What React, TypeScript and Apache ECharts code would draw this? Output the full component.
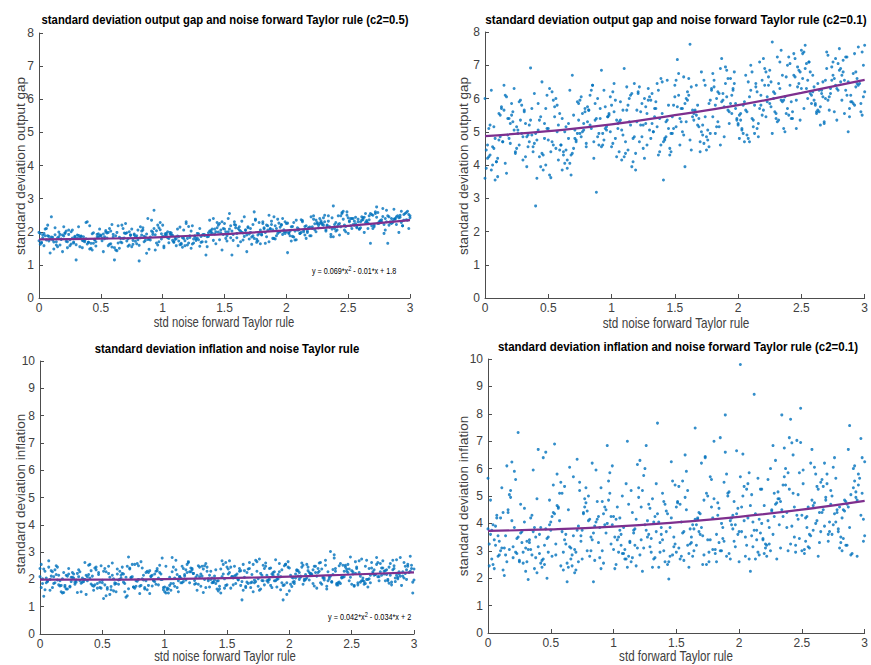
import React, { useEffect, useRef } from "react";
import * as echarts from "echarts";

// ---- data ----
const X_MIN = 0;
const X_MAX = 3;
const X_TICKS_STEP = 0.5;

// noise levels (x) of the two batches of simulations
const X_A = [
  0.13,0.02,0.21,0.08,0.27,0.16,0.04,0.24,0.11,0.19,0.00,0.28,0.07,0.15,0.23,0.03,0.18,0.10,0.26,0.05,0.14,0.22,0.09,0.29,0.01,0.17,0.25,0.06,0.12,0.20,
  0.47,0.33,0.55,0.38,0.51,0.30,0.44,0.58,0.36,0.49,0.41,0.53,0.31,0.46,0.39,0.57,0.34,0.52,0.43,0.37,0.56,0.32,0.48,0.40,0.54,0.35,0.45,0.59,0.42,0.50,
  0.71,0.84,0.62,0.77,0.66,0.88,0.73,0.60,0.81,0.69,0.86,0.64,0.75,0.79,0.67,0.83,0.61,0.72,0.87,0.65,0.78,0.70,0.85,0.63,0.76,0.82,0.68,0.89,0.74,0.80,
  0.98,1.11,0.92,1.05,1.17,0.95,1.08,1.01,1.14,0.90,1.03,1.19,0.97,1.10,0.93,1.15,1.06,0.99,1.12,0.94,1.07,1.18,1.00,1.13,0.96,1.04,1.16,0.91,1.09,1.02,
  1.35,1.22,1.44,1.29,1.47,1.20,1.38,1.26,1.41,1.32,1.49,1.24,1.36,1.45,1.28,1.40,1.21,1.33,1.46,1.27,1.39,1.23,1.42,1.31,1.48,1.25,1.37,1.43,1.30,1.34,
  1.62,1.51,1.74,1.57,1.68,1.79,1.54,1.65,1.71,1.59,1.76,1.50,1.66,1.73,1.56,1.63,1.78,1.52,1.69,1.60,1.75,1.55,1.67,1.72,1.58,1.77,1.53,1.64,1.70,1.61,
  1.93,1.81,2.04,1.87,1.98,2.08,1.84,1.95,2.01,1.89,2.06,1.80,1.96,2.03,1.86,1.92,2.09,1.83,1.99,1.90,2.05,1.85,1.97,2.02,1.88,2.07,1.82,1.94,2.00,1.91,
  2.24,2.12,2.33,2.18,2.38,2.15,2.27,2.10,2.30,2.21,2.36,2.13,2.26,2.34,2.17,2.29,2.11,2.22,2.37,2.16,2.31,2.14,2.25,2.35,2.19,2.28,2.39,2.20,2.32,2.23,
  2.53,2.41,2.64,2.47,2.58,2.68,2.44,2.55,2.61,2.49,2.66,2.40,2.56,2.63,2.46,2.52,2.69,2.43,2.59,2.50,2.65,2.45,2.57,2.62,2.48,2.67,2.42,2.54,2.60,2.51,
  2.83,2.71,2.95,2.77,2.88,2.99,2.74,2.86,2.92,2.79,2.97,2.70,2.85,2.93,2.76,2.82,3.00,2.73,2.89,2.80,2.96,2.75,2.87,2.94,2.78,2.98,2.72,2.84,2.91,2.81,
];
const X_B = [
  0.06,0.19,0.01,0.26,0.11,0.23,0.04,0.15,0.29,0.09,0.20,0.02,0.17,0.27,0.12,0.07,0.24,0.00,0.14,0.21,0.10,0.28,0.05,0.18,0.13,0.25,0.03,0.16,0.22,0.08,
  0.40,0.52,0.31,0.46,0.58,0.35,0.49,0.43,0.55,0.33,0.44,0.57,0.38,0.50,0.30,0.53,0.41,0.36,0.48,0.59,0.34,0.45,0.54,0.39,0.32,0.51,0.42,0.56,0.37,0.47,
  0.83,0.64,0.75,0.89,0.61,0.70,0.86,0.67,0.78,0.62,0.81,0.73,0.68,0.87,0.60,0.76,0.84,0.65,0.79,0.71,0.88,0.63,0.74,0.80,0.66,0.85,0.72,0.77,0.69,0.82,
  1.04,0.93,1.15,0.99,1.10,0.91,1.18,1.02,0.96,1.13,1.07,0.90,1.16,0.98,1.11,0.94,1.05,1.19,1.00,1.08,0.92,1.14,1.03,0.97,1.17,1.09,0.95,1.12,1.01,1.06,
  1.28,1.41,1.21,1.36,1.47,1.24,1.33,1.44,1.20,1.39,1.30,1.49,1.26,1.35,1.43,1.22,1.38,1.46,1.29,1.25,1.42,1.32,1.48,1.23,1.37,1.45,1.27,1.40,1.31,1.34,
  1.56,1.72,1.50,1.65,1.77,1.59,1.68,1.53,1.74,1.62,1.79,1.55,1.70,1.58,1.76,1.51,1.66,1.73,1.61,1.54,1.78,1.63,1.69,1.52,1.75,1.60,1.67,1.57,1.71,1.64,
  1.87,2.03,1.81,1.95,2.08,1.84,1.99,1.90,2.06,1.82,1.97,2.01,1.86,2.09,1.93,1.80,2.04,1.89,1.96,2.07,1.83,1.92,2.02,1.88,2.05,1.85,1.98,1.91,2.00,1.94,
  2.18,2.31,2.11,2.26,2.37,2.14,2.29,2.20,2.35,2.12,2.24,2.39,2.16,2.33,2.22,2.10,2.28,2.36,2.19,2.13,2.32,2.25,2.38,2.15,2.27,2.21,2.34,2.17,2.30,2.23,
  2.47,2.62,2.41,2.55,2.68,2.44,2.58,2.50,2.66,2.42,2.53,2.60,2.46,2.69,2.52,2.40,2.64,2.49,2.57,2.67,2.43,2.56,2.61,2.48,2.65,2.45,2.59,2.51,2.63,2.54,
  2.76,2.92,2.71,2.85,2.98,2.74,2.89,2.80,2.95,2.72,2.83,3.00,2.78,2.93,2.82,2.70,2.87,2.97,2.79,2.73,2.91,2.86,2.99,2.75,2.88,2.81,2.94,2.77,2.90,2.84,
];

// Panel 1: std output gap vs noise forward Taylor rule (c2=0.5)
const P1_A = [
  2.12,1.68,1.95,1.72,2.05,1.85,1.58,1.92,1.75,1.40,1.98,1.66,2.20,1.82,1.52,1.90,1.78,2.45,1.63,1.88,1.70,2.02,1.36,1.84,1.95,1.60,1.76,2.10,1.69,1.87,
  1.92,1.55,1.81,2.28,1.73,1.15,1.97,1.64,1.85,2.08,1.48,1.79,1.90,1.70,2.30,1.62,1.86,1.40,1.94,1.75,1.58,2.15,1.83,1.68,1.99,1.52,1.77,2.22,1.65,1.88,
  1.72,2.05,1.45,1.90,1.80,2.40,1.60,1.84,1.12,1.96,1.74,2.18,1.55,1.88,1.67,2.02,1.15,1.79,1.93,1.50,1.85,2.25,1.70,1.98,1.62,1.82,2.10,1.47,1.91,1.76,
  2.28,1.58,1.92,1.80,2.05,1.66,1.89,1.52,2.14,1.75,1.95,2.30,1.70,1.84,2.65,1.62,1.98,1.78,2.08,1.45,1.90,1.73,2.20,1.85,1.60,2.00,1.82,2.35,1.68,1.94,
  1.30,1.88,2.12,1.76,1.96,1.60,2.02,1.84,2.40,1.70,1.92,2.18,1.55,1.99,1.81,2.08,1.66,1.90,2.25,1.74,2.04,1.50,1.93,1.86,2.30,1.78,1.97,1.64,2.10,1.89,
  2.15,1.80,2.60,1.92,1.40,2.05,2.55,1.75,1.98,2.20,1.68,2.08,2.45,1.88,1.30,2.02,2.28,1.72,2.12,1.95,2.38,1.82,2.06,1.62,2.22,1.90,2.00,2.32,1.78,2.10,
  1.95,2.25,1.72,2.10,2.00,2.35,1.85,2.14,1.37,2.06,2.28,1.92,2.20,2.02,2.50,1.88,2.12,1.98,2.30,1.80,2.16,2.05,2.40,1.95,2.22,1.75,2.09,2.26,2.00,2.18,
  2.35,1.98,2.20,2.10,2.78,1.90,2.25,2.05,2.42,2.15,1.85,2.30,2.12,2.48,2.02,2.22,1.95,2.38,2.08,2.18,2.50,2.00,2.28,2.14,1.88,2.33,2.10,2.45,2.06,2.24,
  2.40,2.15,2.55,2.05,2.30,1.65,2.48,2.20,2.35,2.60,2.10,2.28,2.44,1.98,2.38,2.18,2.52,2.25,2.08,2.42,2.30,2.55,2.15,2.36,2.00,2.48,2.22,2.40,2.12,2.33,
  2.45,2.20,2.52,2.30,2.38,2.10,2.58,2.28,2.44,1.95,2.36,2.50,2.25,2.62,2.34,1.65,2.48,2.75,2.22,2.40,2.55,2.30,2.68,2.18,2.46,2.35,2.60,2.28,2.42,2.30,
];
const P1_B = [
  1.75,1.90,1.62,2.00,1.83,1.70,1.95,1.55,1.86,1.78,2.15,1.66,1.92,1.81,1.48,1.88,2.05,1.73,1.60,1.97,1.84,1.69,2.08,1.77,1.91,1.58,1.82,1.99,1.71,1.86,
  1.68,1.93,1.80,1.57,2.02,1.74,1.88,1.45,1.96,1.83,1.65,2.10,1.79,1.90,1.61,1.85,2.18,1.72,1.94,1.54,1.87,1.76,2.04,1.63,1.89,1.81,1.50,1.98,1.70,1.84,
  1.90,1.66,2.08,1.78,1.52,1.95,1.84,2.20,1.71,1.88,1.59,2.00,1.80,1.35,1.92,1.74,2.12,1.83,1.64,1.97,1.77,1.43,1.89,2.05,1.69,1.86,1.56,1.93,1.81,2.15,
  1.82,2.10,1.65,1.94,1.77,2.02,1.58,1.88,2.20,1.72,1.96,1.84,1.53,2.06,1.79,1.91,1.67,2.25,1.86,1.74,1.99,1.61,1.90,2.12,1.80,1.70,2.03,1.87,1.57,1.93,
  1.95,1.74,2.16,1.85,2.05,1.63,1.92,2.28,1.80,1.98,1.56,2.10,1.88,1.70,2.00,1.83,2.35,1.76,1.94,1.66,2.08,1.90,1.45,2.02,1.86,2.20,1.78,1.96,1.68,1.91,
  2.02,1.84,2.25,1.96,1.72,2.12,1.90,2.40,1.80,2.05,1.64,2.18,1.93,2.30,1.77,2.00,1.86,2.22,1.58,2.08,1.95,1.70,2.15,1.88,2.35,1.82,2.04,1.74,2.10,1.98,
  2.08,1.88,2.30,2.00,1.76,2.20,1.95,2.45,1.84,2.12,1.92,2.26,1.70,2.05,2.38,1.90,2.15,1.80,2.22,2.02,1.65,2.10,1.97,2.32,1.86,2.18,2.06,1.78,2.25,1.99,
  2.12,2.30,1.95,2.20,2.42,2.05,2.26,1.88,2.15,2.36,2.00,2.22,1.80,2.18,2.48,2.08,2.28,1.92,2.14,2.34,2.02,2.24,1.85,2.16,2.40,2.10,2.32,1.98,2.20,2.06,
  2.20,2.42,2.05,2.32,2.55,2.15,2.38,1.95,2.26,2.48,2.10,2.30,2.62,2.18,2.40,2.02,2.28,2.50,2.12,2.36,1.90,2.24,2.45,2.16,2.34,2.58,2.08,2.30,2.44,2.22,
  2.30,2.50,2.15,2.40,2.62,2.25,2.45,2.05,2.35,2.55,2.20,2.42,2.70,2.28,2.48,2.10,2.38,2.58,2.22,2.44,1.98,2.32,2.52,2.26,2.40,2.65,2.18,2.36,2.48,2.30,
];

// Panel 2: std output gap vs noise forward Taylor rule (c2=0.1)
const P2_A = [
  5.70,4.20,5.85,3.55,4.60,6.10,5.20,4.35,5.55,4.80,3.60,5.95,4.50,6.40,5.05,4.25,5.40,3.65,4.95,6.25,4.70,5.30,4.10,5.80,4.45,6.05,5.15,4.00,5.50,4.65,
  5.25,3.95,5.75,4.40,6.30,4.85,5.45,4.15,6.92,5.10,3.60,4.70,5.60,4.30,6.15,5.00,4.55,3.62,5.35,4.90,6.00,4.25,5.70,2.77,4.60,5.20,6.50,4.45,5.85,4.75,
  5.05,6.25,4.40,5.55,4.80,3.18,5.90,4.60,5.30,6.70,4.20,5.15,4.95,5.70,4.05,6.10,5.40,4.70,5.85,3.90,5.25,4.50,6.40,5.00,4.85,5.65,4.30,6.00,5.35,4.65,
  5.50,4.35,6.85,5.10,4.80,5.75,4.15,6.20,5.30,4.60,5.95,3.85,5.45,6.90,4.95,5.20,4.40,6.05,5.65,4.75,5.35,6.45,4.55,5.80,5.05,4.25,6.15,5.40,4.90,5.60,
  5.90,4.70,5.35,6.30,4.95,5.65,4.40,6.00,3.55,5.25,5.80,4.85,6.45,5.10,4.60,5.55,6.15,5.00,4.30,5.75,6.60,5.20,4.80,5.95,5.45,4.50,6.25,5.30,5.05,5.70,
  7.63,5.15,6.40,4.90,5.80,6.30,4.60,5.55,6.80,5.30,4.75,6.05,5.65,6.55,5.00,4.45,5.95,7.17,5.40,6.20,4.85,5.70,6.40,5.20,3.95,5.85,6.10,5.45,4.70,6.60,
  5.60,6.35,4.95,7.20,5.85,6.50,5.30,6.10,4.80,5.75,6.70,5.45,6.25,5.05,6.90,5.65,4.70,6.00,5.35,6.45,5.90,5.15,6.80,5.55,6.15,4.90,5.80,6.60,5.25,6.05,
  6.40,5.35,7.10,5.80,6.65,5.10,7.70,6.25,5.55,6.90,5.95,4.95,6.50,7.45,5.70,6.15,5.40,6.80,6.05,5.25,7.25,6.35,5.85,6.70,5.50,6.20,7.00,5.65,6.45,5.90,
  7.60,6.40,5.60,6.95,6.10,5.30,7.35,6.55,5.85,6.80,6.25,5.50,7.10,6.45,5.95,7.40,6.00,5.40,6.70,6.30,5.75,7.20,6.15,5.60,6.85,6.50,5.90,7.05,6.35,6.60,
  6.80,5.95,7.55,6.40,5.70,7.00,6.55,6.10,7.35,6.25,5.85,6.90,7.25,6.35,5.60,6.70,7.60,6.15,5.90,6.85,6.45,7.10,5.00,6.60,6.30,7.40,6.05,5.55,6.75,6.50,
];
const P2_B = [
  4.55,5.40,3.90,5.05,4.75,6.30,4.30,5.65,4.95,4.10,5.25,4.60,3.75,5.90,4.85,5.15,4.40,6.00,4.70,5.50,4.20,5.35,3.85,4.90,5.75,4.50,5.10,4.05,5.60,4.80,
  4.95,4.40,5.65,3.85,5.20,4.70,6.10,4.25,5.45,4.85,3.95,5.80,4.55,5.10,4.15,6.20,4.75,5.35,4.00,5.55,4.90,4.35,5.95,4.65,5.25,3.70,5.05,4.50,5.70,4.80,
  5.20,4.45,5.95,4.85,3.85,5.50,4.70,6.25,5.05,4.30,5.75,4.95,3.70,5.35,4.60,6.05,5.10,4.15,5.60,4.80,5.40,4.05,5.85,4.55,5.25,6.40,4.75,5.00,4.35,5.65,
  5.35,4.60,6.10,5.00,4.25,5.70,4.85,6.45,5.15,4.45,5.90,4.95,3.95,5.55,4.70,6.25,5.25,4.35,5.80,5.05,4.55,6.00,4.80,5.45,4.10,5.65,5.10,6.35,4.65,5.30,
  5.55,4.70,6.20,5.15,4.40,5.85,5.00,6.55,5.30,4.60,6.05,5.10,4.20,5.70,4.85,6.35,5.40,4.50,5.95,5.20,4.75,6.15,4.95,5.60,4.30,5.80,5.25,6.50,4.80,5.45,
  5.70,4.90,6.40,5.35,4.55,6.00,5.20,6.75,5.45,4.75,6.25,5.30,4.40,5.85,5.05,6.55,5.60,4.65,6.10,5.40,4.95,6.35,5.15,5.75,4.45,5.95,5.50,6.65,5.00,5.65,
  5.90,5.10,6.55,5.55,4.80,6.20,5.40,6.95,5.65,4.95,6.45,5.50,4.60,6.05,5.25,6.75,5.80,4.85,6.30,5.60,5.15,6.60,5.35,5.95,4.70,6.15,5.70,6.85,5.20,5.85,
  6.10,5.30,6.80,5.75,5.00,6.45,5.60,7.20,5.90,5.15,6.65,5.70,4.85,6.30,5.45,7.00,6.00,5.10,6.55,5.80,5.35,6.85,5.55,6.20,4.95,6.40,5.95,7.10,5.40,6.05,
  6.35,5.55,7.05,6.00,5.25,6.70,5.85,7.45,6.15,5.40,6.90,5.95,5.10,6.55,5.70,7.25,6.25,5.35,6.80,6.05,5.60,7.10,5.80,6.45,5.20,6.65,6.20,7.35,5.65,6.30,
  6.60,5.80,7.30,6.25,5.50,6.95,6.10,7.50,6.40,5.65,7.15,6.20,5.35,6.80,5.95,7.40,6.50,5.60,7.05,6.30,5.85,7.25,6.05,6.70,5.45,6.90,6.45,7.20,5.90,6.55,
];

// Panel 3: std inflation vs noise Taylor rule
const P3_A = [
  2.50,1.85,2.15,1.60,2.05,1.95,2.30,1.75,2.10,1.52,2.40,1.90,2.68,1.80,2.20,1.38,2.02,1.70,2.25,1.88,2.45,1.65,2.12,1.98,2.55,1.78,2.08,1.92,2.35,1.72,
  2.18,1.55,2.48,1.95,1.30,2.22,1.80,2.60,2.00,1.68,2.32,1.40,2.10,1.85,2.52,1.62,2.05,2.40,1.75,2.15,1.45,2.28,1.90,2.55,1.70,2.00,2.35,1.58,2.12,1.88,
  2.82,1.65,2.20,1.95,2.45,1.48,2.08,1.82,2.65,1.35,2.30,2.00,1.72,2.50,1.90,2.15,1.55,2.38,1.78,2.05,2.58,1.40,2.25,1.98,1.68,2.42,1.85,2.10,2.55,1.75,
  2.78,1.95,2.20,1.60,2.35,2.05,1.75,2.48,1.88,2.15,1.50,2.62,2.00,1.70,2.30,1.92,2.80,1.62,2.10,2.40,1.85,2.25,1.55,2.05,2.52,1.78,2.18,1.98,2.70,1.68,
  1.95,2.40,1.75,2.20,2.55,1.88,2.05,1.60,2.35,2.00,2.62,1.82,2.15,1.50,2.45,1.98,2.28,1.70,2.10,2.50,1.90,2.22,1.65,2.38,2.02,1.85,2.30,1.95,2.12,2.45,
  1.25,2.20,2.65,1.85,2.40,1.95,2.10,1.70,2.55,2.00,2.75,1.80,2.25,1.92,2.48,1.60,2.15,2.68,1.88,2.30,1.75,2.05,2.38,1.98,2.20,1.65,2.45,2.08,1.90,2.32,
  2.10,2.60,1.85,2.25,1.45,2.00,2.40,1.25,2.15,1.95,2.35,1.80,2.50,2.05,1.70,2.28,2.12,1.90,2.45,2.00,2.20,1.78,2.55,2.08,1.95,2.32,2.15,1.88,2.42,2.02,
  2.30,1.95,3.02,2.15,1.85,2.45,2.05,2.60,1.75,2.25,2.90,2.00,2.38,1.90,2.20,2.52,1.82,2.12,2.40,1.98,2.28,2.55,1.88,2.18,2.35,2.05,1.80,2.48,2.10,2.25,
  2.22,1.85,2.40,2.55,1.95,2.15,2.30,1.80,2.48,2.08,2.62,1.90,2.25,2.00,2.38,1.78,2.18,2.52,2.05,2.32,1.88,2.45,2.12,2.70,1.95,2.28,2.08,2.40,1.82,2.20,
  2.35,2.10,2.55,1.95,2.28,1.50,2.42,2.15,2.62,2.00,2.30,2.80,2.05,2.48,2.20,1.90,2.38,2.58,2.12,2.45,2.25,2.68,2.02,2.35,2.18,2.52,1.95,2.40,2.28,2.15,
];
const P3_B = [
  1.95,2.25,1.70,2.08,1.85,2.40,1.62,2.15,1.90,2.32,1.78,2.02,1.55,2.20,1.88,2.45,1.72,2.10,1.98,1.65,2.28,1.82,2.05,1.50,2.18,1.92,2.38,1.76,2.12,2.00,
  2.05,1.80,2.35,1.68,2.15,1.92,2.50,1.60,2.22,1.86,2.42,1.74,2.10,1.97,1.52,2.28,1.83,2.62,1.70,2.02,1.90,2.45,1.64,2.18,1.95,2.30,1.78,2.08,1.45,2.25,
  1.98,2.30,1.72,2.12,1.85,2.48,1.62,2.20,1.93,2.38,1.78,2.05,1.55,2.25,1.88,2.55,1.70,2.15,2.00,1.66,2.32,1.82,2.10,1.48,2.22,1.95,2.42,1.75,2.08,2.02,
  2.08,1.82,2.40,1.70,2.18,1.95,2.55,1.62,2.25,1.88,2.45,1.76,2.12,2.00,1.55,2.32,1.85,2.65,1.72,2.05,1.92,2.48,1.66,2.20,1.98,2.35,1.80,2.10,1.50,2.28,
  2.10,1.85,2.42,1.72,2.20,1.96,2.58,1.65,2.28,1.90,2.48,1.78,2.15,2.02,1.58,2.35,1.88,2.68,1.75,2.08,1.94,2.50,1.68,2.22,2.00,2.38,1.82,2.12,1.52,2.30,
  2.12,1.88,2.45,1.75,2.22,1.98,2.62,1.68,2.30,1.92,2.52,1.80,2.18,2.05,1.60,2.38,1.90,2.70,1.78,2.10,1.96,2.55,1.70,2.25,2.02,2.40,1.85,2.15,1.55,2.32,
  2.15,1.90,2.48,1.78,2.25,2.00,2.65,1.72,2.32,1.95,2.55,1.82,2.20,2.08,1.62,2.40,1.92,2.72,1.80,2.12,1.98,2.58,1.74,2.28,2.05,2.42,1.88,2.18,1.58,2.35,
  2.20,1.95,2.52,1.82,2.30,2.05,2.70,1.76,2.36,2.00,2.60,1.88,2.25,2.12,1.68,2.45,1.98,2.78,1.85,2.18,2.02,2.62,1.80,2.32,2.10,2.48,1.92,2.22,1.65,2.40,
  2.25,2.00,2.58,1.88,2.35,2.10,2.75,1.82,2.42,2.05,2.65,1.92,2.30,2.18,1.75,2.50,2.02,2.82,1.90,2.22,2.08,2.68,1.85,2.38,2.15,2.52,1.96,2.28,1.72,2.45,
  2.30,2.05,2.62,1.92,2.40,2.15,2.80,1.86,2.48,2.10,2.70,1.98,2.35,2.22,1.80,2.55,2.08,2.85,1.95,2.28,2.12,2.72,1.90,2.42,2.20,2.58,2.00,2.32,1.78,2.50,
];

// Panel 4: std inflation vs noise forward Taylor rule (c2=0.1)
const P4_A = [
  2.10,3.60,5.90,2.80,3.30,4.50,2.50,7.32,3.10,6.24,3.80,2.95,4.20,6.10,3.45,2.70,5.20,3.00,4.70,2.35,3.55,5.60,2.85,4.05,3.25,5.05,2.60,3.90,4.40,3.15,
  2.00,3.40,5.80,2.75,4.25,3.10,6.40,2.45,3.70,4.85,2.90,6.90,3.35,6.60,2.20,4.10,3.05,5.40,2.65,3.85,4.60,1.95,3.50,6.70,2.85,4.30,3.20,5.10,2.55,3.75,
  6.34,1.87,3.60,4.90,2.70,3.30,5.50,2.95,4.15,3.05,5.95,2.40,3.75,4.45,2.85,6.20,3.40,2.60,4.80,3.15,5.30,2.30,3.90,1.87,4.35,3.00,5.70,2.75,3.55,4.10,
  3.25,7.00,2.55,4.20,3.80,6.84,2.90,3.50,5.20,2.35,4.60,3.10,5.85,2.70,3.95,4.40,3.20,6.10,2.80,3.65,5.00,2.45,4.25,3.35,5.55,2.95,3.75,4.80,3.05,4.15,
  7.66,3.40,1.97,4.55,2.85,5.30,3.60,6.84,2.60,4.05,3.25,5.75,2.40,3.85,4.70,3.00,6.30,2.75,4.20,3.50,5.10,2.25,3.70,4.90,3.15,6.00,2.95,4.35,3.45,5.45,
  3.30,4.80,2.50,6.50,3.70,4.20,2.80,7.48,3.55,5.20,2.95,4.60,3.20,6.44,2.65,3.95,5.60,3.10,4.35,2.40,5.00,3.65,4.15,2.85,5.90,3.40,4.70,3.00,6.20,3.80,
  4.10,2.90,5.35,3.45,6.65,2.70,4.55,3.80,9.80,7.96,3.20,7.00,4.80,6.53,3.00,5.15,2.25,4.30,3.60,5.80,2.80,7.13,3.95,4.60,3.35,5.45,2.60,4.20,3.70,5.00,
  3.85,8.71,3.10,5.25,4.40,2.95,6.84,3.55,4.75,3.25,5.70,2.70,4.50,7.96,3.65,6.30,4.05,3.20,5.40,2.85,4.90,3.75,6.00,4.25,3.40,5.10,3.00,4.65,3.95,5.60,
  4.20,7.80,3.30,5.05,6.70,3.90,4.60,3.15,5.80,8.20,4.40,7.13,3.60,5.25,7.03,3.05,4.85,6.50,3.75,4.30,5.50,2.95,6.20,4.10,3.45,5.35,6.94,3.85,4.75,5.95,
  4.50,3.60,5.40,4.05,7.57,3.35,5.00,4.70,6.10,3.80,4.30,5.80,3.20,4.95,6.40,4.20,3.55,5.20,2.85,4.60,5.65,3.95,6.70,2.80,4.40,5.10,3.70,4.85,6.00,3.50,
];
const P4_B = [
  3.20,4.10,2.45,3.65,5.30,2.90,3.95,2.60,4.55,3.35,2.75,4.85,3.05,3.70,2.30,4.30,3.50,5.65,2.85,3.85,4.20,2.55,3.40,4.95,3.10,2.65,3.75,4.40,2.95,3.55,
  3.15,4.40,2.60,3.80,5.50,2.85,3.95,2.40,4.65,3.30,2.70,5.10,3.50,4.05,2.25,4.35,3.60,5.95,2.95,3.70,4.20,2.50,3.25,4.90,3.05,2.80,3.85,4.55,2.35,3.45,
  3.40,4.50,2.70,3.85,5.35,2.95,4.05,2.45,4.75,3.25,2.80,5.20,3.55,4.15,2.30,4.40,3.65,6.05,3.00,3.75,4.25,2.55,3.35,5.00,3.10,2.65,3.90,4.60,2.20,3.50,
  3.50,4.60,2.75,3.95,5.45,3.00,4.15,2.50,4.85,3.30,2.90,5.30,3.65,4.25,2.40,4.50,3.75,6.15,3.05,3.85,4.35,2.60,3.40,5.10,3.20,2.70,4.00,4.70,2.35,3.60,
  3.60,4.70,2.85,4.05,5.55,3.10,4.25,2.60,4.95,3.40,2.95,5.40,3.75,4.35,2.50,4.60,3.85,6.25,3.15,3.95,4.45,2.70,3.50,5.20,3.30,2.80,4.10,4.80,2.40,3.70,
  3.70,4.85,2.95,4.15,5.70,3.20,4.40,2.70,5.10,3.50,3.05,5.55,3.85,4.50,2.60,4.75,3.95,6.40,3.25,4.05,4.60,2.80,3.60,5.35,3.40,2.90,4.20,4.95,2.50,3.80,
  3.85,5.00,3.05,4.30,5.85,3.30,4.55,2.80,5.25,3.60,3.15,5.70,4.00,4.65,2.70,4.90,4.10,6.60,3.35,4.20,4.75,2.90,3.70,5.50,3.50,3.00,4.35,5.10,2.60,3.95,
  4.00,5.15,3.15,4.45,6.00,3.40,4.70,2.90,5.40,3.75,3.25,5.85,4.15,4.80,2.80,5.05,4.25,6.75,3.45,4.35,4.90,3.00,3.85,5.65,3.60,3.10,4.50,5.25,2.70,4.10,
  4.15,5.35,3.25,4.60,6.20,3.50,4.85,3.00,5.60,3.90,3.35,6.05,4.30,4.95,2.90,5.25,4.40,6.95,3.55,4.50,5.10,3.10,4.00,5.85,3.70,3.20,4.65,5.45,2.80,4.25,
  4.35,5.55,3.35,4.80,6.40,3.60,5.05,3.10,5.80,4.05,3.45,6.25,4.50,5.15,3.00,5.45,4.60,7.10,3.70,4.70,5.30,3.20,4.15,6.05,3.85,3.30,4.85,5.65,2.90,4.45,
];

// fitted quadratic curves, read at these x positions
const FIT_X = [0, 0.5, 1, 1.5, 2, 2.5, 3];
const FIT1 = [1.77, 1.79, 1.84, 1.93, 2.04, 2.18, 2.35];
const FIT2 = [4.87, 5.02, 5.22, 5.50, 5.80, 6.17, 6.56];
const FIT3 = [1.99, 1.99, 2.01, 2.05, 2.10, 2.18, 2.26];
const FIT4 = [3.73, 3.78, 3.88, 4.04, 4.24, 4.50, 4.82];

const Y_MAX_TOP = 8;
const Y_MAX_BOTTOM = 10;

const TITLES = [
  "standard deviation output gap and noise forward Taylor rule (c2=0.5)",
  "standard deviation output gap and noise forward Taylor rule (c2=0.1)",
  "standard deviation inflation and noise Taylor rule",
  "standard deviation inflation and noise forward Taylor rule (c2=0.1)",
];
const X_NAMES = [
  "std noise forward Taylor rule",
  "std noise forward Taylor rule",
  "std noise forward Taylor rule",
  "std forward Taylor rule",
];
const Y_NAMES = [
  "standard deviation output gap",
  "standard deviation output gap",
  "standard deviation inflation",
  "standard deviation inflation",
];
const EQ1 = ["y = 0.069*x", "2", " - 0.01*x + 1.8"];
const EQ3 = ["y = 0.042*x", "2", " - 0.034*x + 2"];

// ---- styles / layout ----
const SANS = "'Liberation Sans', Arial, sans-serif";
const DOT = "#0072BD";
const FIT = "#7E2F8E";
const AXIS = "#4d4d4d";
const LABEL = "#404040";

const GRIDS = [
  { left: 39, top: 33, width: 371, height: 265 },
  { left: 485, top: 32, width: 383, height: 266 },
  { left: 40, top: 361, width: 374, height: 273 },
  { left: 488, top: 359, width: 380, height: 274 },
];
const TITLE_POS = [[225, 20], [676, 20], [227, 349], [678, 347]];
const TITLE_W = [367, 382, 265, 361];
const XNAME_POS = [[224, 323], [676, 323], [225, 656], [676, 656]];
const XNAME_W = [141, 147, 142, 114];
const YNAME_POS = [[20, 166], [463, 166], [20, 494], [463, 496]];

function toPoints(xs: number[], ys: number[]) {
  return ys.map((y, i) => [xs[i], y]);
}
function fitPoints(ys: number[]) {
  return FIT_X.map((x, i) => [x, ys[i]]);
}
function squeeze(text: string, font: string, target: number) {
  const ctx = document.createElement("canvas").getContext("2d");
  if (!ctx) return 1;
  ctx.font = font;
  const w = ctx.measureText(text).width;
  return w > 0 ? target / w : 1;
}

export default function App() {
  const ref = useRef<HTMLDivElement>(null);
  useEffect(() => {
    if (!ref.current) return;
    const chart = echarts.init(ref.current, undefined, { renderer: "svg" });
    const yMax = [Y_MAX_TOP, Y_MAX_TOP, Y_MAX_BOTTOM, Y_MAX_BOTTOM];
    const batchA = [P1_A, P2_A, P3_A, P4_A];
    const batchB = [P1_B, P2_B, P3_B, P4_B];
    const fits = [FIT1, FIT2, FIT3, FIT4];

    const axisCommon = {
      axisLine: { show: true, lineStyle: { color: AXIS, width: 1 } },
      axisTick: { show: true, inside: true, length: 4, lineStyle: { color: AXIS } },
      splitLine: { show: false },
    };
    const xAxis = GRIDS.map((_, i) => ({
      type: "value",
      gridIndex: i,
      min: X_MIN,
      max: X_MAX,
      interval: X_TICKS_STEP,
      ...axisCommon,
      axisLabel: { color: LABEL, fontSize: 12, fontFamily: SANS, margin: 4 },
    }));
    const yAxis = GRIDS.map((_, i) => ({
      type: "value",
      gridIndex: i,
      min: 0,
      max: yMax[i],
      interval: 1,
      ...axisCommon,
      axisLabel: { color: LABEL, fontSize: 12, fontFamily: SANS, margin: 5 },
    }));

    const series: any[] = [];
    for (let i = 0; i < 4; i++) {
      series.push({
        type: "scatter",
        xAxisIndex: i,
        yAxisIndex: i,
        data: [...toPoints(X_A, batchA[i]), ...toPoints(X_B, batchB[i])],
        symbol: "circle",
        symbolSize: 3,
        itemStyle: { color: DOT },
        silent: true,
        z: 2,
      });
      series.push({
        type: "line",
        xAxisIndex: i,
        yAxisIndex: i,
        data: fitPoints(fits[i]),
        smooth: true,
        showSymbol: false,
        symbol: "none",
        lineStyle: { color: FIT, width: 2.2 },
        silent: true,
        z: 3,
      });
    }

    const graphic: any[] = [];
    const titleFont = `bold 13px ${SANS}`;
    const nameFont = `14px ${SANS}`;
    for (let i = 0; i < 4; i++) {
      graphic.push({
        type: "text",
        x: TITLE_POS[i][0],
        y: TITLE_POS[i][1],
        scaleX: squeeze(TITLES[i], titleFont, TITLE_W[i]),
        style: { text: TITLES[i], fill: "#000", font: titleFont, align: "center", verticalAlign: "middle" },
      });
      graphic.push({
        type: "text",
        x: XNAME_POS[i][0],
        y: XNAME_POS[i][1],
        scaleX: squeeze(X_NAMES[i], nameFont, XNAME_W[i]),
        style: { text: X_NAMES[i], fill: LABEL, font: nameFont, align: "center", verticalAlign: "middle" },
      });
      graphic.push({
        type: "text",
        x: YNAME_POS[i][0],
        y: YNAME_POS[i][1],
        rotation: Math.PI / 2,
        style: { text: Y_NAMES[i], fill: LABEL, font: `13.5px ${SANS}`, align: "center", verticalAlign: "middle" },
      });
    }
    const eqs = [
      { eq: EQ1, x: 312, y: 271, s: 0.8 },
      { eq: EQ3, x: 328, y: 617, s: 0.81 },
    ];
    eqs.forEach((e) => {
      graphic.push({
        type: "text",
        x: e.x,
        y: e.y,
        scaleX: e.s,
        style: {
          text: `{a|${e.eq[0]}}{s|${e.eq[1]}}{a|${e.eq[2]}}`,
          align: "left",
          verticalAlign: "middle",
          rich: {
            a: { fontSize: 9, fontFamily: SANS, color: "#222" },
            s: { fontSize: 7, fontFamily: SANS, color: "#222", verticalAlign: "top", padding: [0, 0, 5, 0] },
          },
        },
      });
    });

    chart.setOption({
      animation: false,
      backgroundColor: "#ffffff",
      grid: GRIDS.map((g) => ({ ...g, containLabel: false })),
      xAxis,
      yAxis,
      series,
      graphic,
    });
    return () => chart.dispose();
  }, []);
  return (
    <div
      ref={ref}
      style={{ position: "absolute", left: 0, top: 0, width: 871, height: 665 }}
    />
  );
}
